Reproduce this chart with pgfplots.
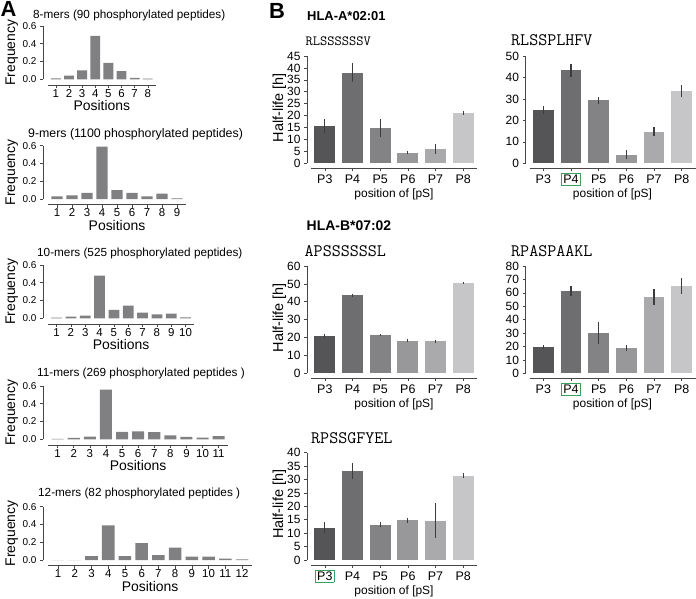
\documentclass[border=0pt]{standalone}
\usepackage{pgfplots}
\pgfplotsset{compat=1.18}
\usepackage{fontspec}
\setmainfont{Liberation Sans}
\definecolor{barA}{RGB}{128,128,130}
\definecolor{cP3}{RGB}{85,85,87}
\definecolor{cP4}{RGB}{110,110,112}
\definecolor{cP5}{RGB}{131,131,133}
\definecolor{cP6}{RGB}{152,152,154}
\definecolor{cP7}{RGB}{170,170,172}
\definecolor{cP8}{RGB}{198,198,200}
\definecolor{errc}{RGB}{60,60,62}
\definecolor{axc}{RGB}{70,70,70}
\definecolor{boxgreen}{RGB}{60,160,95}
\newcommand{\fs}[1]{\fontsize{#1}{#1}\selectfont}
\newcommand{\gbox}[1]{{\setlength{\fboxsep}{1.2pt}\setlength{\fboxrule}{0.7pt}\fcolorbox{boxgreen}{white}{#1}}}
\pgfplotsset{
  /pgf/number format/assume math mode=true,
  base/.style={scale only axis, axis lines*=left,
    axis line style={line width=0.6bp, draw=axc},
    tick style={line width=0.6bp, draw=axc},
    tick align=outside, major tick length=3bp, clip=false, ymin=0},
  Astyle/.style={base, height=53.3bp, ymax=0.6, ytick={0,0.2,0.4,0.6}, xmin=0.4,
    axis x line shift=5.5bp, axis y line shift=5bp,
    yticklabel style={font=\fs{10}, /pgf/number format/fixed,
      /pgf/number format/fixed zerofill, /pgf/number format/precision=1},
    xticklabel style={font=\fs{11.5}, inner sep=0.8bp, text height=8.2bp, text depth=0pt},
    xlabel={Positions}, ylabel={Frequency},
    every axis x label/.style={at={(axis description cs:0.5,0)}, anchor=base, yshift=-31bp, inner sep=0pt, font=\fs{14}},
    every axis y label/.style={at={(axis description cs:0,0.5)}, xshift=-29.7bp, rotate=90, anchor=south, inner sep=0pt, font=\fs{14}}},
  Bstyle/.style={base, width=166bp, height=107.3bp, xmin=-0.5, xmax=5.5, xtick={0,...,5},
    axis x line shift=5bp, axis y line shift=4bp,
    yticklabel style={font=\fs{12}},
    xticklabel style={font=\fs{12.5}, text height=9bp, text depth=0pt},
    xlabel={position of [pS]},
    every axis x label/.style={at={(axis description cs:0.5,0)}, anchor=base, yshift=-34bp, font=\fs{12}}},
  Bleft/.style={ylabel={Half-life [h]},
    every axis y label/.style={at={(axis description cs:0,0.52)}, xshift=-24.7bp, rotate=90, anchor=south, inner sep=0pt, font=\fs{14.5}}},
  pa/.style={ybar, bar width=0.75, bar shift=0pt, draw=none, fill=barA},
  pb/.style={ybar, bar width=0.75, bar shift=0pt, draw=none, fill=#1,
    error bars/y dir=both, error bars/y explicit, error bars/error mark=none,
    error bars/error bar style={line width=1.1bp, draw=errc}},
}
\begin{document}
\begin{tikzpicture}
\path[use as bounding box] (0,0) rectangle (696bp,-599bp);
% ---------------- Panel A ----------------
\begin{axis}[Astyle, at={(48bp,-79.3bp)}, anchor=south west, width=107.7bp, xmax=8.6, xtick={1,...,8}]
\addplot[pa] coordinates {(1,0.01) (2,0.042) (3,0.10) (4,0.49) (5,0.185) (6,0.092) (7,0.016) (8,0.008)};
\end{axis}
\begin{axis}[Astyle, at={(48bp,-199bp)}, anchor=south west, width=138bp, xmax=9.6, xtick={1,...,9}]
\addplot[pa] coordinates {(1,0.03) (2,0.04) (3,0.07) (4,0.59) (5,0.10) (6,0.068) (7,0.03) (8,0.06) (9,0.008)};
\end{axis}
\begin{axis}[Astyle, at={(48bp,-318.3bp)}, anchor=south west, width=146.2bp, xmax=10.6, xtick={1,...,10}]
\addplot[pa] coordinates {(1,0.008) (2,0.02) (3,0.03) (4,0.48) (5,0.094) (6,0.143) (7,0.064) (8,0.045) (9,0.053) (10,0.01)};
\end{axis}
\begin{axis}[Astyle, at={(48bp,-439.3bp)}, anchor=south west, width=180.3bp, xmax=11.6, xtick={1,...,11}]
\addplot[pa] coordinates {(1,0.004) (2,0.015) (3,0.03) (4,0.56) (5,0.083) (6,0.09) (7,0.08) (8,0.045) (9,0.027) (10,0.02) (11,0.035)};
\end{axis}
\begin{axis}[Astyle, at={(48bp,-560bp)}, anchor=south west, width=204.1bp, xmax=12.6, xtick={1,...,12}]
\addplot[pa] coordinates {(1,0) (2,0) (3,0.045) (4,0.39) (5,0.045) (6,0.19) (7,0.056) (8,0.14) (9,0.037) (10,0.037) (11,0.015) (12,0.008)};
\end{axis}
% ---------------- Panel B ----------------
% RLSSSSSSV
\begin{axis}[Bstyle, Bleft, at={(311bp,-163.3bp)}, anchor=south west, ymax=45, ytick={0,5,...,45},
  xticklabels={P3,P4,P5,P6,P7,P8}]
\addplot[pb=cP3] coordinates {(0,15.6) +- (0,2.8)};
\addplot[pb=cP4] coordinates {(1,38.0) +- (0,3.9)};
\addplot[pb=cP5] coordinates {(2,14.7) +- (0,3.7)};
\addplot[pb=cP6] coordinates {(3,4.5) +- (0,0.8)};
\addplot[pb=cP7] coordinates {(4,6.0) +- (0,2.0)};
\addplot[pb=cP8] coordinates {(5,21.1) +- (0,0.8)};
\end{axis}
% RLSSPLHFV
\begin{axis}[Bstyle, at={(529.5bp,-163.3bp)}, anchor=south west, ymax=50, ytick={0,10,...,50},
  xticklabels={P3,\gbox{P4},P5,P6,P7,P8}]
\addplot[pb=cP3] coordinates {(0,25.0) +- (0,1.9)};
\addplot[pb=cP4] coordinates {(1,43.4) +- (0,3.0)};
\addplot[pb=cP5] coordinates {(2,29.4) +- (0,1.6)};
\addplot[pb=cP6] coordinates {(3,4.1) +- (0,2.2)};
\addplot[pb=cP7] coordinates {(4,14.8) +- (0,1.9)};
\addplot[pb=cP8] coordinates {(5,33.6) +- (0,2.7)};
\end{axis}
% APSSSSSSL
\begin{axis}[Bstyle, Bleft, at={(311bp,-373.3bp)}, anchor=south west, ymax=60, ytick={0,10,...,60},
  xticklabels={P3,P4,P5,P6,P7,P8}]
\addplot[pb=cP3] coordinates {(0,20.9) +- (0,0.9)};
\addplot[pb=cP4] coordinates {(1,43.6) +- (0,1.0)};
\addplot[pb=cP5] coordinates {(2,21.4) +- (0,0.6)};
\addplot[pb=cP6] coordinates {(3,18.3) +- (0,0.9)};
\addplot[pb=cP7] coordinates {(4,17.9) +- (0,0.8)};
\addplot[pb=cP8] coordinates {(5,50.7) +- (0,0.6)};
\end{axis}
% RPASPAAKL
\begin{axis}[Bstyle, at={(529.5bp,-373.3bp)}, anchor=south west, ymax=80, ytick={0,10,...,80},
  xticklabels={P3,\gbox{P4},P5,P6,P7,P8}]
\addplot[pb=cP3] coordinates {(0,19.3) +- (0,1.5)};
\addplot[pb=cP4] coordinates {(1,61.5) +- (0,3.8)};
\addplot[pb=cP5] coordinates {(2,30.0) +- (0,8.0)};
\addplot[pb=cP6] coordinates {(3,18.8) +- (0,2.0)};
\addplot[pb=cP7] coordinates {(4,57.0) +- (0,6.0)};
\addplot[pb=cP8] coordinates {(5,65.0) +- (0,5.8)};
\end{axis}
% RPSSGFYEL
\begin{axis}[Bstyle, Bleft, at={(311bp,-560bp)}, anchor=south west, ymax=40, ytick={0,5,...,40},
  xticklabels={\gbox{P3},P4,P5,P6,P7,P8}]
\addplot[pb=cP3] coordinates {(0,12.1) +- (0,2.0)};
\addplot[pb=cP4] coordinates {(1,33.2) +- (0,2.9)};
\addplot[pb=cP5] coordinates {(2,13.2) +- (0,0.9)};
\addplot[pb=cP6] coordinates {(3,14.8) +- (0,1.0)};
\addplot[pb=cP7] coordinates {(4,14.7) +- (0,6.4)};
\addplot[pb=cP8] coordinates {(5,31.4) +- (0,0.9)};
\end{axis}
% ---------------- texts ----------------
\node[anchor=base west, inner sep=0pt, font=\fs{22}\bfseries] at (0.5bp,-16.5bp) {A};
\node[anchor=base west, inner sep=0pt, font=\fs{22}\bfseries] at (269bp,-18.3bp) {B};
\node[anchor=base west, inner sep=0pt, font=\fs{11.8}] at (33bp,-18.3bp) {8-mers (90 phosphorylated peptides)};
\node[anchor=base west, inner sep=0pt, font=\fs{12.4}] at (28bp,-137.8bp) {9-mers (1100 phosphorylated peptides)};
\node[anchor=base west, inner sep=0pt, font=\fs{11.8}] at (37bp,-256bp) {10-mers (525 phosphorylated peptides)};
\node[anchor=base west, inner sep=0pt, font=\fs{11.8}] at (37bp,-376bp) {11-mers (269 phosphorylated peptides )};
\node[anchor=base west, inner sep=0pt, font=\fs{11.8}] at (38bp,-496.7bp) {12-mers (82 phosphorylated peptides )};
\node[anchor=base west, inner sep=0pt, font=\fs{13}\bfseries] at (307bp,-20bp) {HLA-A*02:01};
\node[anchor=base west, inner sep=0pt, font=\fs{14}\bfseries] at (306.5bp,-230bp) {HLA-B*07:02};
\node[anchor=base west, inner sep=0pt, font=\fs{14.1}\ttfamily] at (305.5bp,-45bp) {RLSSSSSSV};
\node[anchor=base west, inner sep=0pt, font=\fs{17.6}\ttfamily] at (511bp,-45bp) {RLSSPLHFV};
\node[anchor=base west, inner sep=0pt, font=\fs{17.6}\ttfamily] at (304.5bp,-256bp) {APSSSSSSL};
\node[anchor=base west, inner sep=0pt, font=\fs{17.6}\ttfamily] at (511bp,-256bp) {RPASPAAKL};
\node[anchor=base west, inner sep=0pt, font=\fs{17.6}\ttfamily] at (311bp,-443.3bp) {RPSSGFYEL};
\end{tikzpicture}
\end{document}
